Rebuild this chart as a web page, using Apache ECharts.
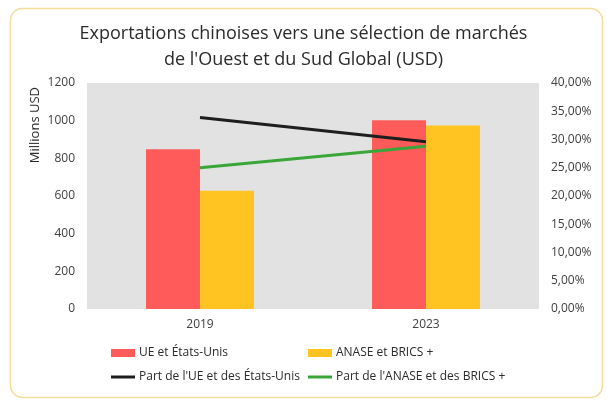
<!DOCTYPE html>
<html><head><meta charset="utf-8">
<script src="https://cdn.jsdelivr.net/npm/echarts@6/dist/echarts.min.js"></script>
<style>html,body{margin:0;padding:0;background:#fff}#c{width:607px;height:405px}</style>
</head><body><div id="c"></div>
<script>
const categories = ['2019', '2023'];
const ueUsValues = [848, 1002];
const aseanBricsValues = [628, 975];
const ueUsShare = [33.9, 29.6];
const aseanBricsShare = [25.0, 28.8];
const leftTicks = [0, 200, 400, 600, 800, 1000, 1200];
const rightTickMax = 40;

const chart = echarts.init(document.getElementById('c'), null, {renderer: 'canvas'});
const font = '"Open Sans", "Noto Sans", sans-serif';
chart.setOption({
  backgroundColor: '#ffffff',
  animation: false,
  textStyle: {fontFamily: font},
  title: {
    text: 'Exportations chinoises vers une sélection de marchés\nde l\'Ouest et du Sud Global (USD)',
    left: 'center', top: 16,
    textStyle: {fontSize: 18, fontWeight: 'normal', color: '#2b2b2b', lineHeight: 26, fontFamily: font}
  },
  graphic: [
    {type: 'rect', left: 8, top: 6, shape: {width: 592, height: 389, r: 12},
     style: {fill: 'none', stroke: '#f2dd9a', lineWidth: 1.5}, z: 100},
    {type: 'text', left: 29, top: 87, rotation: Math.PI / 2,
     style: {text: 'Millions USD', fill: '#2b2b2b', font: '13px ' + font, textAlign: 'center'}}
  ],
  grid: {left: 87, right: 68, top: 83, bottom: 96, show: true, backgroundColor: '#e2e2e2', borderWidth: 0},
  xAxis: {
    type: 'category', data: categories,
    axisLine: {show: false}, axisTick: {show: false},
    axisLabel: {color: '#404040', fontSize: 12, margin: 10}
  },
  yAxis: [
    {type: 'value', min: leftTicks[0], max: leftTicks[leftTicks.length - 1], interval: 200,
     splitLine: {show: false}, axisLine: {show: false}, axisTick: {show: false},
     axisLabel: {color: '#404040', fontSize: 12, margin: 12, formatter: v => String(v)}},
    {type: 'value', min: 0, max: rightTickMax, interval: 5,
     splitLine: {show: false}, axisLine: {show: false}, axisTick: {show: false},
     axisLabel: {color: '#404040', fontSize: 12, margin: 12,
       formatter: v => v.toFixed(2).replace('.', ',') + '%'}}
  ],
  legend: [
    {left: 111, top: 347, padding: 0, itemWidth: 24, itemHeight: 8, itemGap: 0,
     data: [{name: 'UE et États-Unis', icon: 'rect'}],
     textStyle: {color: '#2b2b2b', fontSize: 12, padding: [0, 0, 0, -1]}},
    {left: 308, top: 347, padding: 0, itemWidth: 24, itemHeight: 8, itemGap: 0,
     data: [{name: 'ANASE et BRICS +', icon: 'rect'}],
     textStyle: {color: '#2b2b2b', fontSize: 12, padding: [0, 0, 0, -1]}},
    {left: 111, top: 371, padding: 0, itemWidth: 24, itemHeight: 3, itemGap: 0,
     data: [{name: 'Part de l\'UE et des États-Unis', icon: 'rect'}],
     textStyle: {color: '#2b2b2b', fontSize: 12, padding: [0, 0, 0, -1]}},
    {left: 308, top: 371, padding: 0, itemWidth: 24, itemHeight: 3, itemGap: 0,
     data: [{name: 'Part de l\'ANASE et des BRICS +', icon: 'rect'}],
     textStyle: {color: '#2b2b2b', fontSize: 12, padding: [0, 0, 0, -1]}}
  ],
  series: [
    {name: 'UE et États-Unis', type: 'bar', data: ueUsValues, barWidth: 54, barGap: '0%',
     itemStyle: {color: '#ff5b5b'}},
    {name: 'ANASE et BRICS +', type: 'bar', data: aseanBricsValues, barWidth: 54, barGap: '0%',
     itemStyle: {color: '#ffc421'}},
    {name: 'Part de l\'UE et des États-Unis', type: 'line', yAxisIndex: 1, data: ueUsShare,
     symbol: 'none', lineStyle: {color: '#1e1e1e', width: 3}, itemStyle: {color: '#1e1e1e'}},
    {name: 'Part de l\'ANASE et des BRICS +', type: 'line', yAxisIndex: 1, data: aseanBricsShare,
     symbol: 'none', lineStyle: {color: '#3aa63a', width: 3}, itemStyle: {color: '#3aa63a'}}
  ]
});
</script></body></html>
